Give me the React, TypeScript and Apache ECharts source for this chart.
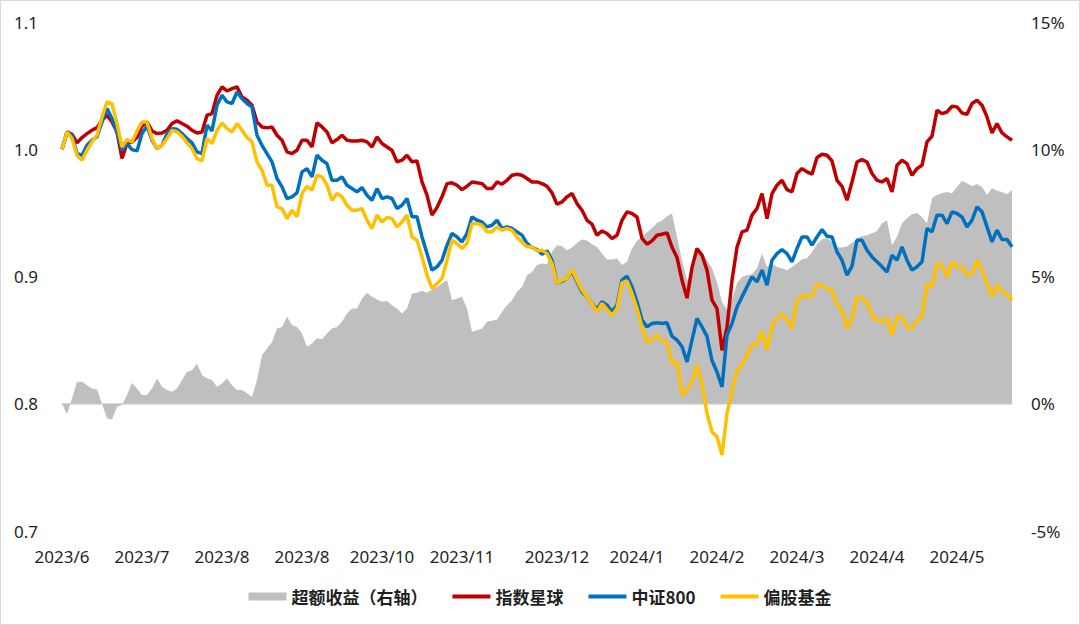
import React, { useEffect, useRef } from 'react';
import * as echarts from 'echarts';

// x-axis tick labels and the category index where each one sits
const tickIndex = [0, 16, 32, 48, 64, 80, 99, 115, 131, 147, 163, 179];
const tickLabels = ['2023/6', '2023/7', '2023/8', '2023/8', '2023/10', '2023/11', '2023/12', '2024/1', '2024/2', '2024/3', '2024/4', '2024/5'];

const seriesNames = ['超额收益（右轴）', '指数星球', '中证800', '偏股基金'];

// 超额收益（右轴）, in %
const excess = [
  0, -0.41, 0.21, 0.86, 0.86, 0.73, 0.60, 0.56, 0.01, -0.58,
  -0.62, -0.12, -0.05, 0.34, 0.82, 0.60, 0.34, 0.34, 0.60, 0.99,
  0.67, 0.54, 0.47, 0.60, 0.93, 1.26, 1.32, 1.58, 1.13, 0.99,
  0.93, 0.67, 0.80, 0.99, 0.73, 0.54, 0.54, 0.41, 0.27, 0.93,
  1.91, 2.17, 2.43, 2.96, 3.02, 3.42, 3.09, 3.02, 2.76, 2.24,
  2.37, 2.57, 2.53, 2.76, 2.96, 3.02, 3.22, 3.55, 3.74, 3.74,
  4.14, 4.36, 4.20, 4.10, 4.01, 4.04, 3.87, 3.74, 3.55, 3.74,
  4.33, 4.36, 4.44, 4.36, 4.49, 4.59, 4.73, 4.86, 4.07, 4.14,
  4.20, 3.74, 2.83, 2.89, 2.96, 3.22, 3.26, 3.31, 3.61, 3.87,
  4.07, 4.40, 4.59, 5.05, 5.18, 5.45, 5.51, 5.48, 5.97, 6.23,
  6.19, 6.03, 6.14, 6.32, 6.45, 6.41, 6.27, 6.16, 5.90, 5.67,
  5.67, 5.71, 5.45, 5.58, 6.10, 6.40, 6.55, 6.74, 6.90, 7.10,
  7.20, 7.37, 7.48, 6.55, 5.64, 4.85, 5.05, 6.03, 5.96, 5.64,
  5.32, 4.78, 4.00, 3.70, 4.07, 4.74, 4.98, 5.05, 5.10, 5.32,
  5.90, 5.37, 5.50, 5.37, 5.32, 5.25, 5.37, 5.52, 5.68, 5.72,
  5.96, 6.27, 6.46, 6.50, 6.35, 6.15, 6.14, 6.19, 6.32, 6.50,
  6.58, 6.62, 6.70, 6.79, 7.09, 7.20, 6.23, 6.56, 7.09, 7.29,
  7.45, 7.50, 7.34, 7.09, 8.07, 8.20, 8.28, 8.32, 8.27, 8.52,
  8.76, 8.66, 8.55, 8.63, 8.52, 8.20, 8.47, 8.37, 8.32, 8.23,
  8.39,
];

// 指数星球
const zsxq = [
  1.000, 1.0136, 1.0118, 1.005, 1.0092, 1.0123, 1.0149, 1.017, 1.0228, 1.0267,
  1.0215, 1.0136, 0.9927, 1.0045, 1.0058, 1.0092, 1.0181, 1.0215, 1.0144, 1.0123,
  1.0128, 1.0149, 1.0202, 1.0223, 1.0202, 1.0181, 1.0149, 1.0128, 1.0136, 1.0267,
  1.028, 1.0424, 1.049, 1.0458, 1.0476, 1.049, 1.0411, 1.0385, 1.0346, 1.0215,
  1.0175, 1.0168, 1.0175, 1.011, 1.0071, 0.9979, 0.9966, 0.9992, 1.0071, 1.0071,
  1.0018, 1.0207, 1.0175, 1.0136, 1.005, 1.0076, 1.011, 1.0071, 1.0065, 1.0065,
  1.0071, 1.0058, 1.0018, 1.0097, 1.0045, 1.0018, 0.9992, 0.9901, 0.9914, 0.9953,
  0.9901, 0.9908, 0.9743, 0.9639, 0.9482, 0.9542, 0.9626, 0.973, 0.9736, 0.9717,
  0.9683, 0.9709, 0.9743, 0.9736, 0.973, 0.9691, 0.9691, 0.9743, 0.9725, 0.9756,
  0.9796, 0.9804, 0.9796, 0.977, 0.9743, 0.9743, 0.973, 0.9709, 0.9657, 0.9568,
  0.9586, 0.9626, 0.9652, 0.9573, 0.9521, 0.9442, 0.9411, 0.9324, 0.9358, 0.9338,
  0.9298, 0.9324, 0.9442, 0.9508, 0.9495, 0.9468, 0.930, 0.9254, 0.928, 0.9324,
  0.9332, 0.9343, 0.923, 0.915, 0.897, 0.883, 0.907, 0.922, 0.9167, 0.905,
  0.8814, 0.8748, 0.842, 0.860, 0.897, 0.923, 0.935, 0.9364, 0.9482, 0.9534,
  0.9652, 0.9455, 0.9652, 0.9717, 0.9756, 0.9683, 0.9665, 0.9809, 0.9848, 0.9822,
  0.9804, 0.9935, 0.9961, 0.9953, 0.9908, 0.9756, 0.9709, 0.9599, 0.9743, 0.99,
  0.9919, 0.99, 0.9809, 0.9756, 0.9743, 0.977, 0.9665, 0.9874, 0.9914, 0.9887,
  0.9796, 0.9848, 0.9874, 1.0058, 1.0102, 1.0306, 1.028, 1.0293, 1.0338, 1.0333,
  1.0285, 1.0275, 1.0359, 1.0385, 1.0346, 1.0254, 1.0128, 1.0202, 1.0128, 1.0097,
  1.0071,
];

// 中证800
const csi800 = [
  1.000, 1.0131, 1.011, 0.9966, 0.9953, 1.0031, 1.0071, 1.0097, 1.0215, 1.0319,
  1.0241, 1.0136, 0.9992, 1.0045, 0.9997, 0.9987, 1.0123, 1.0181, 1.0071, 1.0005,
  1.0031, 1.0123, 1.0162, 1.0157, 1.0123, 1.0084, 1.005, 0.9979, 0.9966, 1.0189,
  1.0144, 1.0346, 1.0424, 1.0372, 1.0359, 1.045, 1.0398, 1.0359, 1.0332, 1.011,
  1.0031, 0.9966, 0.9901, 0.977, 0.9704, 0.9613, 0.9626, 0.9657, 0.9822, 0.9848,
  0.9783, 0.9953, 0.9914, 0.9887, 0.9756, 0.9756, 0.9783, 0.9717, 0.9691, 0.9665,
  0.9699, 0.9639, 0.9599, 0.9691, 0.9613, 0.9626, 0.9613, 0.9534, 0.956, 0.9613,
  0.9469, 0.9469, 0.9311, 0.9181, 0.905, 0.9076, 0.9128, 0.9246, 0.9338, 0.9311,
  0.9272, 0.9338, 0.9469, 0.9442, 0.9429, 0.939, 0.9403, 0.9442, 0.9377, 0.939,
  0.9377, 0.9351, 0.9325, 0.926, 0.9228, 0.9212, 0.9175, 0.9201, 0.9128, 0.895,
  0.8963, 0.8984, 0.9044, 0.8958, 0.8879, 0.884, 0.8788, 0.8741, 0.8801, 0.8775,
  0.8722, 0.8775, 0.8971, 0.9002, 0.8919, 0.8801, 0.8657, 0.8604, 0.863, 0.8636,
  0.863, 0.8636, 0.8531, 0.85, 0.845, 0.8329, 0.85, 0.867, 0.8604, 0.853,
  0.834, 0.825, 0.8133, 0.854, 0.863, 0.8761, 0.884, 0.8919, 0.8997, 0.8958,
  0.905, 0.8932, 0.9128, 0.918, 0.9212, 0.918, 0.9115, 0.922, 0.9311, 0.9311,
  0.9246, 0.9311, 0.9369, 0.9317, 0.9311, 0.9194, 0.9128, 0.901, 0.9081, 0.9285,
  0.9285, 0.9207, 0.9154, 0.9115, 0.9076, 0.9036, 0.9167, 0.9128, 0.9233, 0.9128,
  0.905, 0.9076, 0.9115, 0.9377, 0.9351, 0.9482, 0.9482, 0.9416, 0.9508, 0.9495,
  0.9468, 0.939, 0.9442, 0.9547, 0.9508, 0.939, 0.9272, 0.9364, 0.929, 0.929,
  0.9233,
];

// 偏股基金
const fund = [
  1.000, 1.0136, 1.0084, 0.9953, 0.9914, 0.9992, 1.0058, 1.011, 1.0254, 1.0372,
  1.0359, 1.0202, 1.0018, 1.0076, 1.0058, 1.0144, 1.0215, 1.0215, 1.0084, 1.0005,
  1.0031, 1.0084, 1.0149, 1.0136, 1.0102, 1.005, 1.0005, 0.9927, 0.9908, 1.0084,
  1.0045, 1.0149, 1.0207, 1.0162, 1.0136, 1.0202, 1.0149, 1.0092, 1.0058, 0.9901,
  0.9835, 0.9717, 0.9717, 0.9547, 0.9534, 0.9455, 0.9521, 0.9469, 0.9652, 0.9709,
  0.9678, 0.9796, 0.9783, 0.9717, 0.9599, 0.9652, 0.9626, 0.956, 0.9521, 0.9521,
  0.9534, 0.9442, 0.9377, 0.9482, 0.9429, 0.9463, 0.9455, 0.939, 0.9429, 0.9482,
  0.9311, 0.9285, 0.9154, 0.901, 0.8906, 0.8945, 0.8984, 0.9128, 0.9285, 0.9259,
  0.922, 0.9259, 0.9416, 0.9416, 0.9403, 0.9351, 0.9351, 0.939, 0.9364, 0.9377,
  0.9364, 0.9311, 0.9272, 0.9233, 0.9233, 0.9201, 0.9207, 0.918, 0.9102, 0.895,
  0.8971, 0.8984, 0.9055, 0.8971, 0.8892, 0.884, 0.8788, 0.8722, 0.8788, 0.8741,
  0.8696, 0.8749, 0.895, 0.8966, 0.8866, 0.8748, 0.8604, 0.8479, 0.85, 0.8539,
  0.85, 0.8479, 0.8316, 0.8329, 0.8068, 0.8107, 0.8172, 0.8303, 0.8159, 0.7924,
  0.778, 0.774, 0.7596, 0.7924, 0.8094, 0.8264, 0.8303, 0.8382, 0.846, 0.8473,
  0.8570, 0.8421, 0.8617, 0.867, 0.8709, 0.8657, 0.8591, 0.8814, 0.8853, 0.884,
  0.884, 0.894, 0.8932, 0.8905, 0.8892, 0.8775, 0.8735, 0.8591, 0.867, 0.884,
  0.8827, 0.8801, 0.8696, 0.8657, 0.8644, 0.8678, 0.8539, 0.8683, 0.8678, 0.8604,
  0.8591, 0.8657, 0.8683, 0.894, 0.8919, 0.9102, 0.9089, 0.8997, 0.9115, 0.9076,
  0.9076, 0.901, 0.9023, 0.9128, 0.9049, 0.8945, 0.8845, 0.8932, 0.8879, 0.8866,
  0.8814,
];

const COLORS = ['#BFBFBF', '#C00000', '#0070C0', '#FFC000'];
const TEXT = '#1f1f1f';
const FONT = "'Noto Sans', 'Noto Sans CJK SC', sans-serif";

export default function App() {
  const ref = useRef<HTMLDivElement>(null);

  useEffect(() => {
    if (!ref.current) return;
    const chart = echarts.init(ref.current, null, { renderer: 'svg' });
    const categories = zsxq.map((_, i) => String(i));
    const labelMap = new Map<number, string>(tickIndex.map((idx, k) => [idx, tickLabels[k]]));
    const linePath = 'path://M0,0H38V4H0Z';

    chart.setOption({
      animation: false,
      backgroundColor: '#ffffff',
      textStyle: { fontFamily: FONT },
      graphic: [
        {
          type: 'rect',
          silent: true,
          shape: { x: 0.5, y: 0.5, width: 1079, height: 624 },
          style: { fill: 'none', stroke: '#D9D9D9', lineWidth: 1 },
        },
      ],
      grid: { left: 62, right: 68, top: 22, bottom: 94, containLabel: false },
      legend: {
        left: 'center',
        top: 583,
        itemWidth: 38,
        itemHeight: 8,
        itemGap: 25,
        itemStyle: { borderWidth: 0 },
        textStyle: {
          fontSize: 17,
          fontWeight: 'bold',
          color: TEXT,
          fontFamily: "'Noto Sans CJK SC', 'Noto Sans', sans-serif",
        },
        data: [
          { name: seriesNames[0], icon: 'rect' },
          { name: seriesNames[1], icon: linePath },
          { name: seriesNames[2], icon: linePath },
          { name: seriesNames[3], icon: linePath },
        ],
      },
      xAxis: {
        type: 'category',
        data: categories,
        boundaryGap: false,
        axisLine: { show: true, lineStyle: { color: '#D9D9D9', width: 1.5 } },
        axisTick: { show: false },
        splitLine: { show: false },
        axisLabel: {
          interval: (index: number) => labelMap.has(index),
          formatter: (_v: string, index: number) => labelMap.get(index) ?? '',
          fontSize: 17,
          color: TEXT,
          margin: 17,
          fontFamily: FONT,
        },
      },
      yAxis: [
        {
          type: 'value',
          min: 0.7,
          max: 1.1,
          interval: 0.1,
          position: 'left',
          axisLine: { show: false },
          axisTick: { show: false },
          splitLine: { show: false },
          axisLabel: {
            formatter: (v: number) => v.toFixed(1),
            fontSize: 17,
            color: TEXT,
            margin: 24,
            fontFamily: FONT,
          },
        },
        {
          type: 'value',
          min: -5,
          max: 15,
          interval: 5,
          position: 'right',
          axisLine: { show: false },
          axisTick: { show: false },
          splitLine: { show: false },
          axisLabel: {
            formatter: (v: number) => `${Math.round(v)}%`,
            fontSize: 17,
            color: TEXT,
            margin: 19,
            fontFamily: FONT,
          },
        },
      ],
      series: [
        {
          name: seriesNames[0],
          type: 'line',
          yAxisIndex: 1,
          data: excess,
          symbol: 'none',
          color: COLORS[0],
          itemStyle: { color: COLORS[0] },
          lineStyle: { width: 0, color: COLORS[0] },
          areaStyle: { color: COLORS[0], opacity: 1 },
          emphasis: { disabled: true },
          z: 1,
        },
        {
          name: seriesNames[1],
          type: 'line',
          yAxisIndex: 0,
          data: zsxq,
          symbol: 'none',
          color: COLORS[1],
          itemStyle: { color: COLORS[1] },
          lineStyle: { width: 3.5, color: COLORS[1] },
          emphasis: { disabled: true },
          z: 2,
        },
        {
          name: seriesNames[2],
          type: 'line',
          yAxisIndex: 0,
          data: csi800,
          symbol: 'none',
          color: COLORS[2],
          itemStyle: { color: COLORS[2] },
          lineStyle: { width: 3.5, color: COLORS[2] },
          emphasis: { disabled: true },
          z: 3,
        },
        {
          name: seriesNames[3],
          type: 'line',
          yAxisIndex: 0,
          data: fund,
          symbol: 'none',
          color: COLORS[3],
          itemStyle: { color: COLORS[3] },
          lineStyle: { width: 3.5, color: COLORS[3] },
          emphasis: { disabled: true },
          z: 4,
        },
      ],
    });

    return () => {
      chart.dispose();
    };
  }, []);

  return (
    <div
      ref={ref}
      style={{ position: 'fixed', left: 0, top: 0, width: 1080, height: 625, background: '#ffffff' }}
    />
  );
}
